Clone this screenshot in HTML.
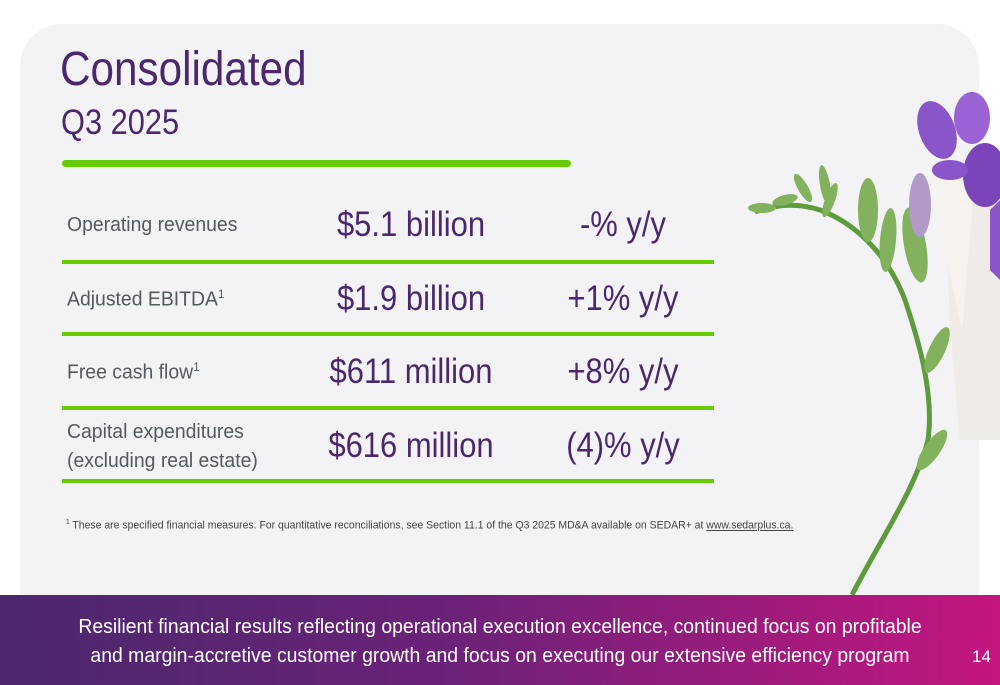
<!DOCTYPE html>
<html><head><meta charset="utf-8"><style>
body{margin:0;width:1000px;height:685px;position:relative;overflow:hidden;background:#fff;font-family:"Liberation Sans",sans-serif}
.card{position:absolute;left:20px;top:24px;width:959px;height:580px;background:#f3f3f5;border-radius:42px 42px 0 0}
.t{position:absolute;color:#4b286d;white-space:nowrap;transform:scaleX(0.88);transform-origin:0 0}
.lbl{position:absolute;color:#54595f;font-size:20px;white-space:nowrap;transform:scaleX(0.97);transform-origin:0 0}
.val{position:absolute;color:#4b286d;font-size:35px;white-space:nowrap;text-align:center;width:260px;transform:scaleX(0.885)}
.line{position:absolute;left:62px;width:652px;height:4px;background:#66cc00}
.banner{position:absolute;left:0;top:595px;width:1000px;height:90px;background:linear-gradient(90deg,#4b286d 0%,#6b2278 45%,#c4167f 100%)}
</style></head><body>
<div class="card"></div>
<svg style="position:absolute;left:700px;top:0" width="300" height="600">
<path d="M246 220 L290 150 L300 160 L300 440 L260 440 L250 330 Z" fill="#efece8"/>
<path d="M225 160 L262 330 L275 180 Z" fill="#f6f3ee"/>
<path d="M152 595 C180 540 215 490 228 440 C235 390 215 330 205 300 C190 260 160 225 120 210 C95 202 75 205 55 212" stroke="#5d9c3c" stroke-width="5" fill="none"/>
<g fill="#82b25e">
<ellipse cx="62" cy="208" rx="14" ry="5"/>
<ellipse cx="85" cy="200" rx="13" ry="5" transform="rotate(-15 85 200)"/>
<ellipse cx="103" cy="188" rx="5" ry="16" transform="rotate(-30 103 188)"/>
<ellipse cx="125" cy="185" rx="5" ry="20" transform="rotate(-10 125 185)"/>
<ellipse cx="130" cy="200" rx="5" ry="18" transform="rotate(20 130 200)"/>
<ellipse cx="168" cy="210" rx="10" ry="32"/>
<ellipse cx="188" cy="240" rx="8" ry="32" transform="rotate(5 188 240)"/>
<ellipse cx="215" cy="245" rx="11" ry="38" transform="rotate(-10 215 245)"/>
<ellipse cx="237" cy="350" rx="8" ry="25" transform="rotate(25 237 350)"/>
<ellipse cx="232" cy="450" rx="8" ry="24" transform="rotate(35 232 450)"/>
</g>
<ellipse cx="237" cy="130" rx="18" ry="30" fill="#8a55c8" transform="rotate(-20 237 130)"/>
<ellipse cx="272" cy="118" rx="18" ry="26" fill="#9a62d2"/>
<ellipse cx="285" cy="175" rx="22" ry="32" fill="#7a45b8"/>
<ellipse cx="250" cy="170" rx="18" ry="10" fill="#8a55c8"/>
<ellipse cx="220" cy="205" rx="11" ry="32" fill="#b09ac8"/>
<path d="M290 210 L300 200 L300 280 L290 270 Z" fill="#8a55c8"/>
</svg>
<div class="t" style="left:60px;top:42px;font-size:48px">Consolidated</div>
<div class="t" style="left:61px;top:103px;font-size:35px">Q3 2025</div>
<div style="position:absolute;left:62px;top:160px;width:509px;height:7px;background:#66cc00;border-radius:4px"></div>

<div class="lbl" style="left:67px;top:214px">Operating revenues</div>
<div class="val" style="left:281px;top:205px">$5.1 billion</div>
<div class="val" style="left:493px;top:205px">-% y/y</div>
<div class="line" style="top:260px"></div>

<div class="lbl" style="left:67px;top:287px">Adjusted EBITDA<sup style="font-size:12px">1</sup></div>
<div class="val" style="left:281px;top:279px">$1.9 billion</div>
<div class="val" style="left:493px;top:279px">+1% y/y</div>
<div class="line" style="top:332px"></div>

<div class="lbl" style="left:67px;top:360px">Free cash flow<sup style="font-size:12px">1</sup></div>
<div class="val" style="left:281px;top:352px">$611 million</div>
<div class="val" style="left:493px;top:352px">+8% y/y</div>
<div class="line" style="top:406px"></div>

<div class="lbl" style="left:67px;top:418px;line-height:29px">Capital expenditures<br>(excluding real estate)</div>
<div class="val" style="left:281px;top:426px">$616 million</div>
<div class="val" style="left:493px;top:426px">(4)% y/y</div>
<div class="line" style="top:479px"></div>

<div style="position:absolute;left:66px;top:519px;font-size:11px;color:#444;white-space:nowrap;transform:scaleX(0.95);transform-origin:0 0"><sup style="font-size:7px">1</sup> These are specified financial measures. For quantitative reconciliations, see Section 11.1 of the Q3 2025 MD&amp;A available on SEDAR+ at <u>www.sedarplus.ca.</u></div>

<div class="banner"></div>
<div style="position:absolute;left:0;top:613px;width:1000px;text-align:center;color:#fff;font-size:20px;line-height:29px;transform:scaleX(0.97)">Resilient financial results reflecting operational execution excellence, continued focus on profitable<br>and margin-accretive customer growth and focus on executing our extensive efficiency program</div>
<div style="position:absolute;left:972px;top:647px;color:#fff;font-size:17px">14</div>
</body></html>
